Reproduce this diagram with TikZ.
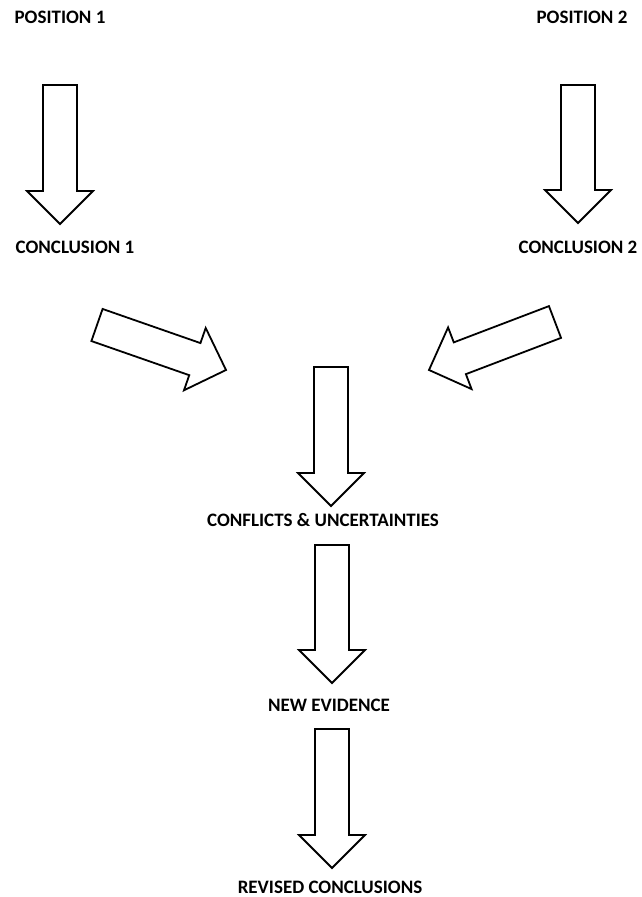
\documentclass[tikz,border=0pt]{standalone}
\usepackage{fontspec}
\setmainfont{Carlito}
\usetikzlibrary{calc}

% hollow block arrow from #1 (tail centre) to #2 (tip)
\newcommand{\fatarrow}[2]{%
  \coordinate (h) at ($(#2)!33pt!(#1)$);
  \draw[blockarrow] ($(#1)!17pt!-90:(#2)$) -- ($(h)!17pt!90:(#1)$) -- ($(h)!33pt!90:(#1)$) -- (#2)
    -- ($(h)!33pt!-90:(#1)$) -- ($(h)!17pt!-90:(#1)$) -- ($(#1)!17pt!90:(#2)$) -- cycle;
}

\begin{document}
\begin{tikzpicture}[x=1pt, y=-1pt,
    lbl/.style={font=\fontsize{19}{22}\selectfont\bfseries, inner sep=0pt},
    blockarrow/.style={draw=black, line width=1.8pt, fill=white, line join=miter}]
    \useasboundingbox (0,0) rectangle (641,897);

    % Labels
    \node[lbl] (pos1) at (60,17) {POSITION 1};
    \node[lbl] (pos2) at (582,17) {POSITION 2};
    \node[lbl] (con1) at (75,247) {CONCLUSION 1};
    \node[lbl] (con2) at (578,247) {CONCLUSION 2};
    \node[lbl] (conf) at (323,520) {CONFLICTS \& UNCERTAINTIES};
    \node[lbl] (newev) at (329,705) {NEW EVIDENCE};
    \node[lbl] (revcon) at (330,887) {REVISED CONCLUSIONS};

    % Arrow ends
    \coordinate (a1s) at (60,85);    \coordinate (a1e) at (60,224);
    \coordinate (a2s) at (578,85);   \coordinate (a2e) at (578,223);
    \coordinate (a3s) at (97,325);   \coordinate (a3e) at (226,370);
    \coordinate (a4s) at (555,322);  \coordinate (a4e) at (429,370);
    \coordinate (a5s) at (331,367);  \coordinate (a5e) at (331,506);
    \coordinate (a6s) at (332,545);  \coordinate (a6e) at (332,683);
    \coordinate (a7s) at (332,729);  \coordinate (a7e) at (332,868);

    % Block arrows
    \fatarrow{a1s}{a1e}
    \fatarrow{a2s}{a2e}
    \fatarrow{a3s}{a3e}
    \fatarrow{a4s}{a4e}
    \fatarrow{a5s}{a5e}
    \fatarrow{a6s}{a6e}
    \fatarrow{a7s}{a7e}
\end{tikzpicture}
\end{document}
